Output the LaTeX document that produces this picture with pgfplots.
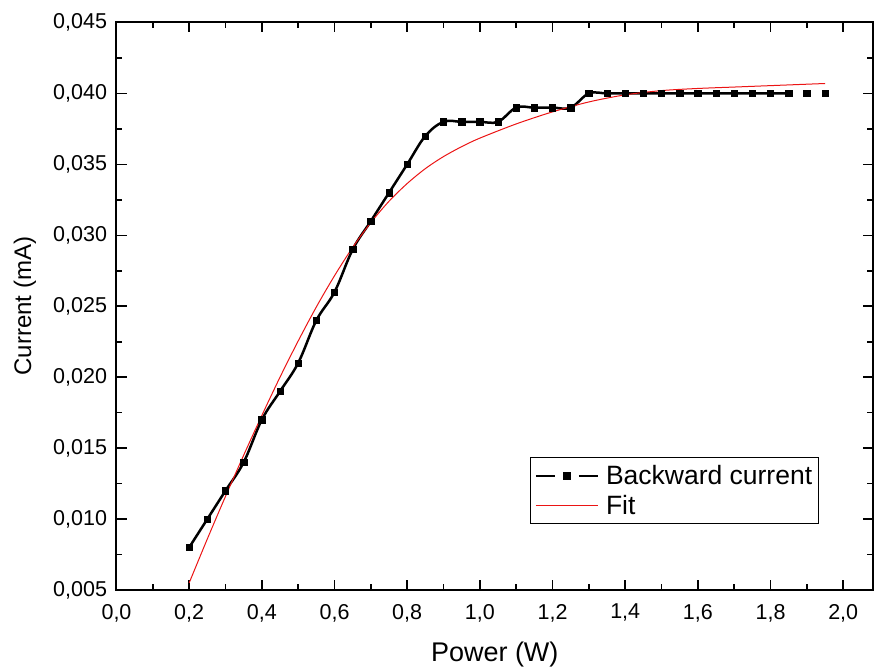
\documentclass[border=0pt]{standalone}
\usepackage{fontspec}
\setmainfont{Liberation Sans}
\usepackage{pgfplots}
\pgfplotsset{compat=1.18}
\definecolor{fitred}{RGB}{235,20,20}
\pgfplotsset{
  blackleg/.style={legend image code/.code={
    \draw[##1, mark=none] (0pt,0pt) -- (19pt,0pt) (43pt,0pt) -- (62pt,0pt);
    \draw[##1, sharp plot] plot coordinates {(31pt,0pt)};
    \path (67pt,0pt);
  }},
  redleg/.style={legend image code/.code={\draw[##1] (0pt,0pt) -- (62pt,0pt); \path (67pt,0pt);}},
}
\begin{document}
\begin{tikzpicture}
\useasboundingbox (-116.5pt,-78pt) rectangle (757.5pt,590pt);
\begin{axis}[
  at={(0pt,0pt)}, anchor=south west,
  scale only axis, width=756.5pt, height=567.5pt,
  xmin=0, xmax=2.082, ymin=0.005, ymax=0.045,
  xtick={0,0.2,0.4,0.6,0.8,1.0,1.2,1.4,1.6,1.8,2.0},
  ytick={0.005,0.010,0.015,0.020,0.025,0.030,0.035,0.040,0.045},
  minor x tick num=1, minor y tick num=1,
  tick align=inside, tick pos=both, ticklabel pos=left,
  major tick length=10pt, minor tick length=6pt,
  tick style={black, line width=1.6pt},
  axis line style={line width=2pt},
  scaled y ticks=false, scaled x ticks=false,
  /pgf/number format/assume math mode=true,
  ticklabel style={font=\fontsize{21.5}{25}\selectfont},
  xticklabel style={yshift=-10.5pt, /pgf/number format/.cd, fixed, fixed zerofill, precision=1, use comma},
  yticklabel style={xshift=-6pt, /pgf/number format/.cd, fixed, fixed zerofill, precision=3, use comma},
  xlabel={Power (W)}, ylabel={Current (mA)},
  xlabel style={font=\fontsize{27}{32}\selectfont, at={(axis description cs:0.5,-0.1135)}, anchor=center},
  ylabel style={font=\fontsize{24}{29}\selectfont, at={(axis description cs:-0.121,0.5)}, anchor=center},
  legend style={at={(axis description cs:0.5466,0.2344)}, anchor=north west,
    draw=black, line width=1pt, font=\fontsize{26.5}{31}\selectfont,
    legend cell align=left, row sep=5pt, inner ysep=6pt, inner xsep=4pt},
]
\addplot[black, line width=2.5pt, smooth, tension=0.6, mark=square*, mark size=3.2pt,
  mark options={solid, line width=0.5pt}, blackleg] coordinates {
(0.20,0.008)(0.25,0.010)(0.30,0.012)(0.35,0.014)(0.40,0.017)(0.45,0.019)
(0.50,0.021)(0.55,0.024)(0.60,0.026)(0.65,0.029)(0.70,0.031)(0.75,0.033)
(0.80,0.035)(0.85,0.037)(0.90,0.038)(0.95,0.038)(1.00,0.038)(1.05,0.038)
(1.10,0.039)(1.15,0.039)(1.20,0.039)(1.25,0.039)(1.30,0.040)(1.35,0.040)
(1.40,0.040)(1.45,0.040)(1.50,0.040)(1.55,0.040)(1.60,0.040)(1.65,0.040)
(1.70,0.040)(1.75,0.040)(1.80,0.040)(1.85,0.040)
};
\addplot[black, only marks, mark=square*, mark size=3.2pt, forget plot] coordinates {
(1.90,0.040)(1.95,0.040)
};
\addplot[fitred, line width=1pt, smooth, no marks, redleg] coordinates {
(0.20,0.00550)(0.25,0.00860)(0.30,0.01160)(0.35,0.01450)(0.40,0.01730)(0.45,0.02000)
(0.50,0.02255)(0.55,0.02495)(0.60,0.02715)(0.65,0.02915)(0.70,0.03090)(0.75,0.03240)
(0.80,0.03365)(0.85,0.03470)(0.90,0.03555)(0.95,0.03625)(1.00,0.03685)(1.10,0.03785)
(1.20,0.03870)(1.30,0.03940)(1.40,0.03990)(1.50,0.04020)(1.60,0.04035)(1.70,0.04045)
(1.80,0.04055)(1.90,0.04065)(1.95,0.04070)
};
\legend{Backward current, Fit}
\end{axis}
\end{tikzpicture}
\end{document}
